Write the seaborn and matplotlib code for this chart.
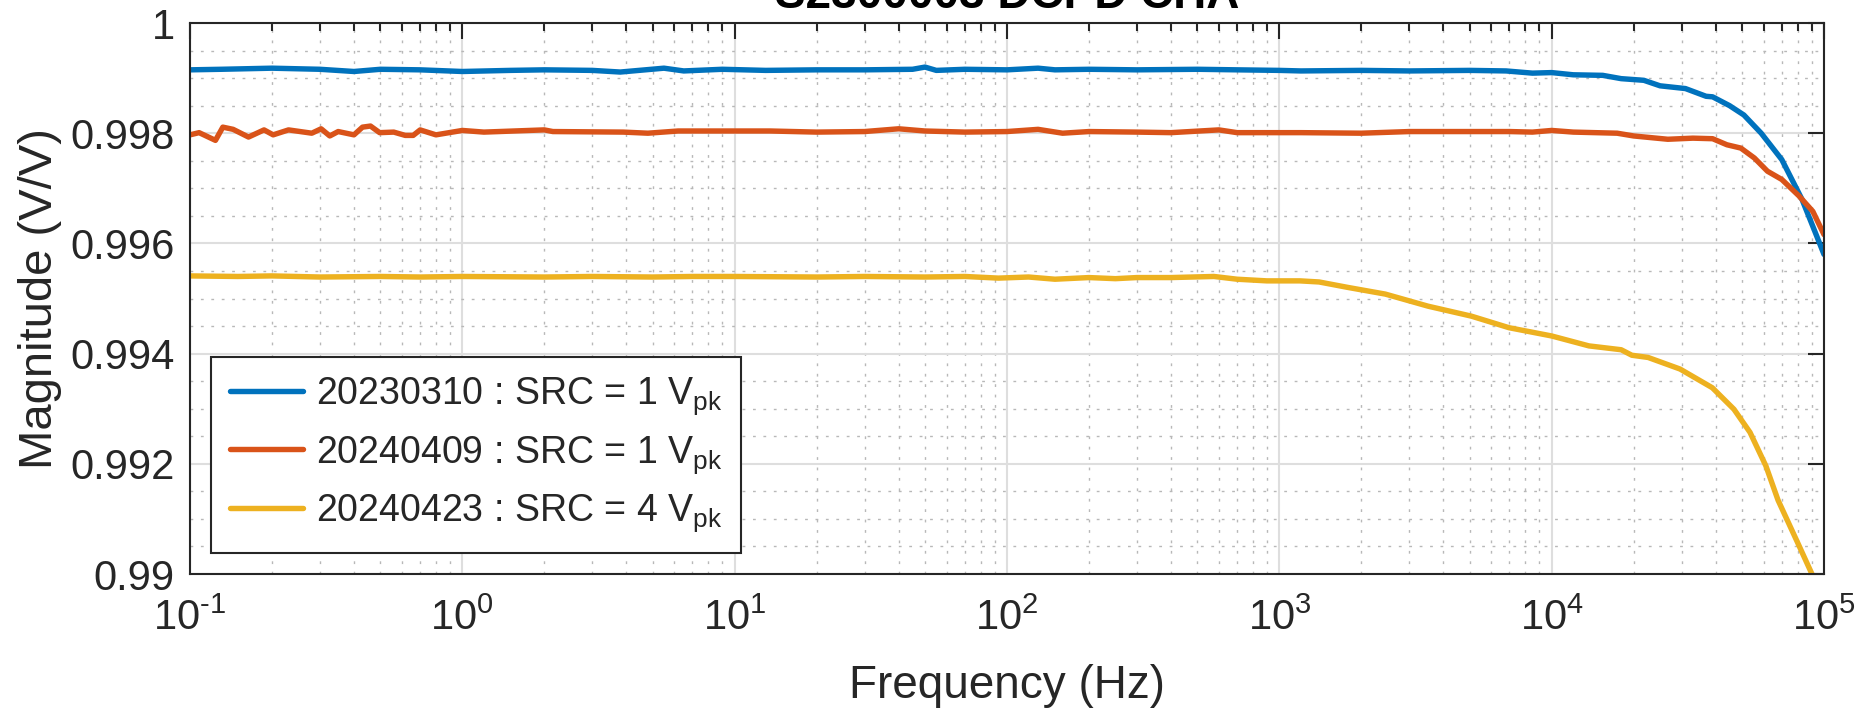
"""Magnitude response of three DCPD channel measurements."""

import numpy as np
import pandas as pd
import matplotlib
matplotlib.use("Agg")
import matplotlib.pyplot as plt
import matplotlib.ticker as mticker
import seaborn as sns

# --- data ---
freq_a = [0.1, 0.13, 0.2, 0.3, 0.4, 0.5, 0.7, 1.0, 1.5, 2, 3, 3.8, 5.5, 6.5, 9,
          13, 20, 30, 45, 50, 55, 70, 100, 130, 150, 200, 300, 500, 700, 1000,
          1200, 2000, 3000, 5000, 6800, 8500, 1e4, 1.2e4, 1.54e4, 1.8e4, 2.18e4,
          2.5e4, 3.1e4, 3.69e4, 3.9e4, 4.5e4, 5.08e4, 5.88e4, 7e4, 8.3e4, 9.2e4, 1e5]
mag_a = [0.99915, 0.99916, 0.99918, 0.99916, 0.99912, 0.99916, 0.99915, 0.99912,
         0.99914, 0.99915, 0.99914, 0.99911, 0.99918, 0.99913, 0.99916,
         0.99914, 0.99915, 0.99915, 0.99916, 0.99920, 0.99914, 0.99916, 0.99915,
         0.99918, 0.99915, 0.99916, 0.99915, 0.99916, 0.99915, 0.99914,
         0.99913, 0.99914, 0.99913, 0.99914, 0.99913, 0.99909, 0.99910, 0.99906,
         0.99905, 0.99899, 0.99896, 0.99886, 0.99881, 0.99867, 0.99866, 0.99850,
         0.99833, 0.99800, 0.99752, 0.99680, 0.99625, 0.99580]

freq_b = [0.1, 0.108, 0.124, 0.132, 0.144, 0.164, 0.187, 0.202, 0.23, 0.28, 0.303,
          0.326, 0.35, 0.4, 0.43, 0.46, 0.497, 0.56, 0.617, 0.66, 0.7, 0.8, 1.0,
          1.2, 2.0, 2.15, 3.9, 4.8, 6.2, 13.5, 20, 30, 40, 50, 70, 100, 130, 160,
          200, 300, 400, 600, 700, 1000, 1200, 2000, 3000, 5000, 7000, 8500, 1e4,
          1.2e4, 1.74e4, 2e4, 2.67e4, 3.3e4, 3.9e4, 4.4e4, 4.95e4, 5.55e4, 6.2e4,
          7e4, 8.1e4, 9.1e4, 1e5]
mag_b = [0.99797, 0.99801, 0.99787, 0.99811, 0.99807, 0.99793, 0.99806, 0.99797,
         0.99806, 0.99800, 0.99808, 0.99795, 0.99803, 0.99797, 0.99811, 0.99813,
         0.99801, 0.99802, 0.99796, 0.99796, 0.99806, 0.99797, 0.99805, 0.99802,
         0.99806, 0.99803, 0.99802, 0.99800, 0.99804, 0.99804, 0.99802, 0.99803,
         0.99808, 0.99804, 0.99802, 0.99803, 0.99807, 0.99800, 0.99803, 0.99802,
         0.99801, 0.99806, 0.99801, 0.99801, 0.99801, 0.99800, 0.99803, 0.99803,
         0.99803, 0.99802, 0.99805, 0.99802, 0.99800, 0.99795, 0.99789, 0.99791,
         0.99790, 0.99779, 0.99773, 0.99755, 0.99731, 0.99716, 0.99686, 0.99658,
         0.99616]

freq_c = [0.1, 0.15, 0.2, 0.3, 0.5, 0.7, 1, 2, 3, 5, 7, 10, 20, 30, 50, 70, 93,
          120, 150, 200, 250, 300, 400, 575, 700, 900, 1190, 1400, 1790, 2450,
          3520, 5070, 6970, 1e4, 1.37e4, 1.8e4, 1.97e4, 2.26e4, 2.96e4, 3.89e4,
          4.67e4, 5.35e4, 6.12e4, 6.78e4, 8e4, 9.03e4, 1e5]
mag_c = [0.99541, 0.99540, 0.99541, 0.99539, 0.99540, 0.99539, 0.99540, 0.99539,
         0.99540, 0.99539, 0.99540, 0.99540, 0.99539, 0.99540, 0.99539, 0.99540,
         0.99537, 0.99539, 0.99535, 0.99538, 0.99536, 0.99538, 0.99538, 0.99540,
         0.99535, 0.99532, 0.99532, 0.99530, 0.99520, 0.99508, 0.99486, 0.99468,
         0.99447, 0.99432, 0.99414, 0.99407, 0.99397, 0.99393, 0.99372, 0.99338,
         0.99299, 0.99257, 0.99196, 0.99134, 0.99057, 0.99000, 0.98930]

labels = [r"20230310 : SRC = 1 V$_{\mathrm{pk}}$",
          r"20240409 : SRC = 1 V$_{\mathrm{pk}}$",
          r"20240423 : SRC = 4 V$_{\mathrm{pk}}$"]
colors = ["#0072BD", "#D95319", "#EDB120"]
title = "S2300003 DCPD CHA"

sns.set_style("white")
plt.rcParams["font.family"] = ["Liberation Sans", "DejaVu Sans"]
plt.rcParams["mathtext.fontset"] = "custom"
plt.rcParams["mathtext.rm"] = "Liberation Sans"
plt.rcParams["mathtext.it"] = "Liberation Sans:italic"
plt.rcParams["mathtext.bf"] = "Liberation Sans:bold"


def decade_label(v, pos):
    # MATLAB style 10^n, short hyphen for negative exponents
    e = int(round(np.log10(v)))
    sign = r"\text{-}" if e < 0 else ""
    return rf"$\mathdefault{{10^{{{sign}{abs(e)}}}}}$"


ink = "#262626"
fig = plt.figure(figsize=(18.74, 7.15), dpi=100)
ax = fig.add_axes([0.10139, 0.19720, 0.87193, 0.77063])

for f, m, lab, c in zip([freq_a, freq_b, freq_c], [mag_a, mag_b, mag_c], labels, colors):
    df = pd.DataFrame({"f": f, "m": m})
    sns.lineplot(data=df, x="f", y="m", ax=ax, color=c, lw=3.9, label=lab,
                 sort=False, estimator=None)

ax.set_xscale("log")
ax.set_xlim(0.1, 1e5)
ax.set_ylim(0.99, 1.0)
ax.set_yticks(np.arange(0.99, 1.0001, 0.002))
ax.yaxis.set_major_formatter(mticker.FuncFormatter(lambda v, p: f"{v:.4g}"))
ax.yaxis.set_minor_locator(mticker.MultipleLocator(0.0005))
ax.xaxis.set_major_locator(mticker.LogLocator(base=10, numticks=10))
ax.xaxis.set_major_formatter(mticker.FuncFormatter(decade_label))
ax.xaxis.set_minor_locator(mticker.LogLocator(base=10, subs=np.arange(2, 10), numticks=20))
ax.xaxis.set_minor_formatter(mticker.NullFormatter())

ax.set_axisbelow(True)
ax.grid(which="major", color="#dedede", lw=1.5, ls="-")
ax.grid(which="minor", color="#b8b8b8", lw=1.0, ls=(0, (2, 5.5)))

ax.tick_params(which="both", direction="in", top=True, right=True, colors=ink,
               labelsize=30, width=1.5)
ax.tick_params(which="major", length=11.5)
ax.tick_params(which="minor", length=5.8)
ax.tick_params(axis="y", which="minor", length=0)
ax.tick_params(axis="y", pad=11)
ax.tick_params(axis="x", pad=18)
for s in ax.spines.values():
    s.set_color(ink)
    s.set_linewidth(1.5)

ax.set_xlabel("Frequency (Hz)", fontsize=33, color=ink, labelpad=18)
ax.set_ylabel("Magnitude (V/V)", fontsize=34, color=ink, labelpad=6)
ax.set_title(title, fontsize=33, fontweight="bold", color="black", pad=11)

leg = ax.legend(loc="lower left", bbox_to_anchor=(0.0129, 0.038), borderaxespad=0,
                fontsize=27, frameon=True, fancybox=False, framealpha=1,
                handlelength=1.95, handletextpad=0.35, labelspacing=0.45,
                borderpad=0.5)
leg.get_frame().set_edgecolor(ink)
leg.get_frame().set_linewidth(1.5)

fig.savefig("out.png", dpi=100)
